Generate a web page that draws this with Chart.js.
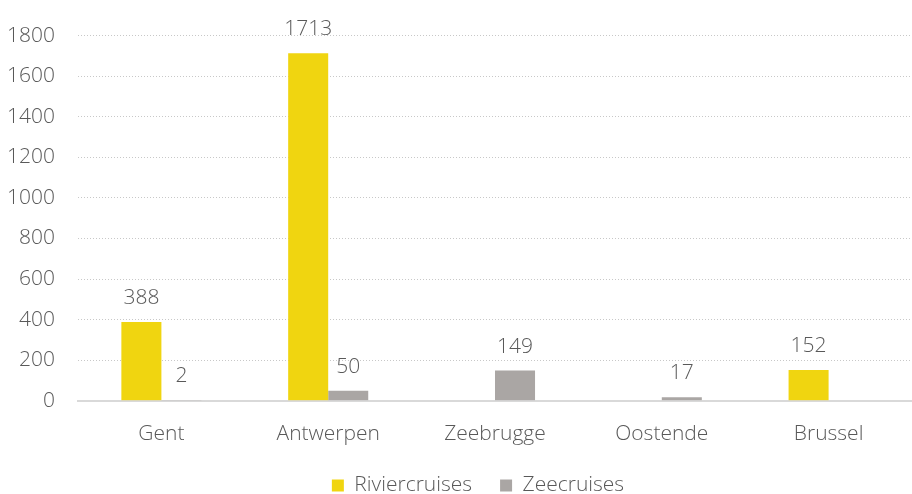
<!DOCTYPE html>
<html>
<head>
<meta charset="utf-8">
<script src="https://cdn.jsdelivr.net/npm/chart.js@4.4.0/dist/chart.umd.min.js"></script>
<style>
  html, body { margin: 0; padding: 0; background: #fff; }
  #wrap { width: 912px; height: 494px; }
</style>
</head>
<body>
<div id="wrap"><canvas id="myChart" width="912" height="494"></canvas></div>
<script>
// data
const categories = ["Gent", "Antwerpen", "Zeebrugge", "Oostende", "Brussel"]
const riviercruises = [388, 1713, null, null, 152]
const zeecruises = [2, 50, 149, 17, null]
const yTicks = [0, 200, 400, 600, 800, 1000, 1200, 1400, 1600, 1800]

const textColor = "#595959"
const fontFamily = "'Open Sans', sans-serif"
const fontSize = 21

// labels above the bars
const valueLabels = {
  id: "valueLabels",
  afterDatasetsDraw(chart) {
    const ctx = chart.ctx
    ctx.save()
    ctx.font = "300 " + fontSize + "px " + fontFamily
    ctx.fillStyle = textColor
    ctx.textAlign = "center"
    ctx.textBaseline = "alphabetic"
    chart.data.datasets.forEach((ds, i) => {
      chart.getDatasetMeta(i).data.forEach((bar, j) => {
        const v = ds.data[j]
        if (v === null) return
        ctx.fillText(String(v), bar.x, bar.y - 18)
      })
    })
    ctx.restore()
  }
}

// legend sits a bit right of the canvas centre
const shiftLegend = {
  id: "shiftLegend",
  afterLayout(chart) {
    chart.legend.left += 22
    chart.legend.right += 22
  }
}

const ctx = document.getElementById("myChart").getContext("2d")
const myChart = new Chart(ctx, {
  type: "bar",
  data: {
    labels: categories,
    datasets: [{
      label: "Riviercruises",
      data: riviercruises,
      backgroundColor: "#f0d510"
    }, {
      label: "Zeecruises",
      data: zeecruises,
      backgroundColor: "#aaa6a4"
    }]
  },
  options: {
    responsive: false,
    animation: false,
    categoryPercentage: 0.48,
    barPercentage: 1.0,
    layout: { padding: { top: 12, right: 0, left: 0, bottom: -12 } },
    plugins: {
      tooltip: { enabled: false },
      legend: {
        position: "bottom",
        labels: {
          color: textColor,
          font: { family: fontFamily, size: fontSize, weight: 300 },
          boxWidth: 12,
          boxHeight: 12,
          padding: 28
        }
      }
    },
    scales: {
      x: {
        afterFit: axis => { axis.height = axis.height - 21 },
        grid: { display: false, drawTicks: false },
        border: { color: "#d9d9d9", width: 2 },
        ticks: {
          color: textColor,
          font: { family: fontFamily, size: fontSize, weight: 300 },
          padding: 21
        }
      },
      y: {
        min: 0,
        max: 1800,
        afterBuildTicks: axis => { axis.ticks = yTicks.map(v => ({ value: v })) },
        afterFit: axis => { axis.width = 78 },
        grid: { color: "#c8c8c8", drawTicks: false },
        border: { display: false, dash: [1, 2] },
        ticks: {
          color: textColor,
          font: { family: fontFamily, size: fontSize, weight: 300 },
          padding: 23,
          callback: v => String(v)
        }
      }
    }
  },
  plugins: [valueLabels, shiftLegend]
})
</script>
</body>
</html>
